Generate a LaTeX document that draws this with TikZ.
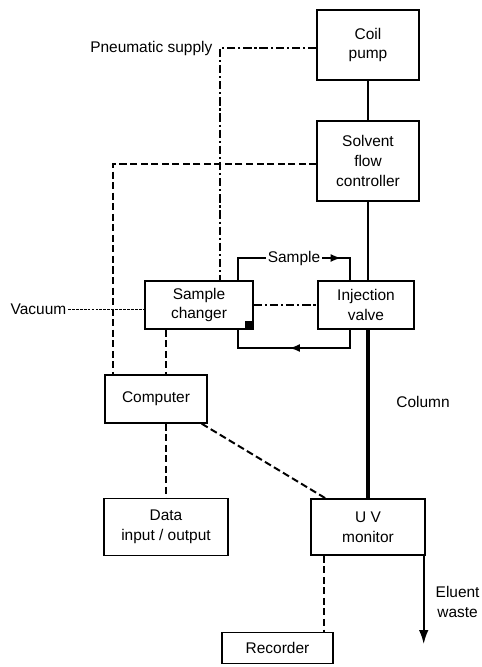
\documentclass[tikz,border=0pt]{standalone}
\usepackage{fontspec}
\setmainfont{Liberation Sans}
\usetikzlibrary{arrows.meta, positioning, calc, decorations.markings}

\begin{document}
\begin{tikzpicture}[
  unit/.style={rectangle, draw=black, line width=1pt, align=center, inner sep=1pt,
               font=\fontsize{11}{14}\selectfont},
  lbl/.style={font=\fontsize{11}{14}\selectfont, inner sep=1pt, align=center},
  flowline/.style={line width=1.2pt},
  columnline/.style={line width=2.4pt},
  sigline/.style={line width=1.4pt, dash pattern=on 5pt off 2.5pt},
  airline/.style={line width=1pt, dash pattern=on 6pt off 2pt on 1.5pt off 2pt},
  vacline/.style={line width=0.7pt, dash pattern=on 2pt off 0.8pt},
  midarrow/.style={postaction={decorate}, decoration={markings,
                   mark=at position #1 with {\arrow{Latex[length=2.6mm,width=2mm]}}}}
]
\useasboundingbox (0,0) rectangle (12.05,-16.675);

% Solvent path
\node[unit, minimum width=2.55cm, minimum height=1.75cm] (pump) at (9.2,-1.125) {Coil\\pump};
\node[unit, minimum width=2.55cm, minimum height=2cm] (ctrl) at (9.2,-4.025) {Solvent\\flow\\controller};
\node[unit, minimum width=2.4cm, minimum height=1.2cm] (valve) at (9.15,-7.625) {Injection\\valve};
\node[unit, minimum width=2.85cm, minimum height=1.4cm] (uv) at (9.2,-13.175) {U V\\monitor};

% Sample handling and data
\node[unit, minimum width=2.7cm, minimum height=1.2cm] (changer) at (4.975,-7.625) {Sample\\changer};
\node[unit, minimum width=2.55cm, minimum height=1.2cm] (computer) at (3.9,-9.975) {Computer};
\node[unit, minimum width=3.1cm, minimum height=1.425cm] (data) at (4.15,-13.175) {Data\\input / output};
\node[unit, minimum width=2.775cm, minimum height=0.775cm] (recorder) at (6.9375,-16.2) {Recorder};
\node[fill=black, minimum size=0.2cm, inner sep=0pt, anchor=south east] (needle) at (changer.south east) {};

% Labels and free ends
\coordinate (pn) at (5.5,-1.2);
\coordinate (sc) at (2.825,-4.1);
\coordinate (lx) at (5.95,-6.45);
\coordinate (rx) at (8.75,-6.45);
\coordinate (lb) at (5.95,-8.7);
\coordinate (rb) at (8.75,-8.7);
\coordinate (waste) at (10.55,-16.1);
\node[lbl, anchor=east] (pneu) at ([xshift=-0.15cm]pn) {Pneumatic supply};
\node[lbl, anchor=east] (vac) at (1.7,-7.725) {Vacuum};
\node[lbl] (col) at (10.575,-10.05) {Column};
\node[lbl, anchor=west] (eluent) at (10.85,-15.05) {Eluent\\waste};

% Solvent flow
\draw[flowline] (pump) -- (ctrl);
\draw[flowline] (ctrl) -- (valve.north -| ctrl);
\draw[columnline] (valve.south -| ctrl) -- (uv.north -| ctrl);
\draw[flowline, -{Latex[length=3.5mm,width=2.4mm]}] ([xshift=-0.05cm]uv.south east) -- ([xshift=-0.05cm]uv.south east |- waste);

% Sample loop
\draw[flowline, midarrow=0.8] (changer.north -| lx) -- (lx) -- node[fill=white, lbl, pos=0.5]{Sample} (rx) -- (valve.north -| rx);
\draw[flowline, midarrow=0.53] (valve.south -| rx) -- (rb) -- (lb) -- (changer.south -| lx);

% Pneumatic and vacuum
\draw[airline] (pump.west |- pn) -- (pn) -- (changer.north -| pn);
\draw[airline] (changer) -- (valve);
\draw[vacline] (vac.east) -- (vac.east -| changer.west);

% Signal lines
\draw[sigline] (ctrl.west |- sc) -- (sc) -- (computer.north -| sc);
\draw[sigline] (changer.south -| data) -- (computer.north -| data);
\draw[sigline] (computer.south -| data) -- (data.north);
\draw[sigline] ([xshift=-0.15cm]computer.south east) -- ([xshift=0.38cm]uv.north west);
\draw[sigline] ([xshift=0.35cm]uv.south west) -- ([xshift=0.35cm]uv.south west |- recorder.north);

\end{tikzpicture}
\end{document}
